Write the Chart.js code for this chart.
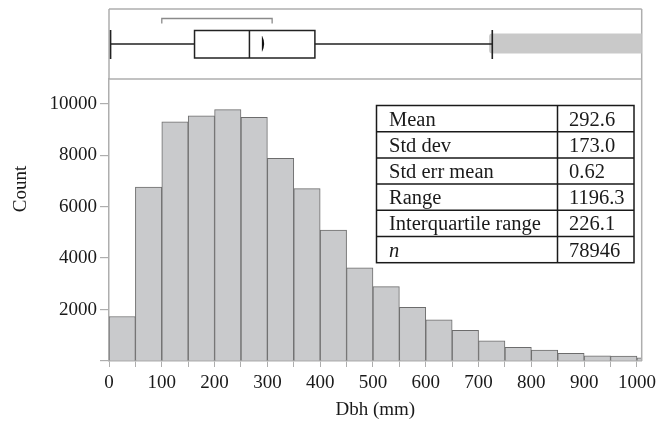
<!DOCTYPE html>
<html>
<head>
<meta charset="utf-8">
<script src="https://cdn.jsdelivr.net/npm/chart.js@4/dist/chart.umd.min.js"></script>
<style>
  html, body { margin: 0; padding: 0; background: #fff; }
  #wrap { width: 658px; height: 427px; position: relative; }
</style>
</head>
<body>
<div id="wrap"><canvas id="c" width="658" height="427"></canvas></div>
<script>
// ---- data ----
const binStarts = [0, 50, 100, 150, 200, 250, 300, 350, 400, 450, 500, 550, 600, 650, 700, 750, 800, 850, 900, 950, 1000];
const binWidth = 50;
const counts = [1730, 6760, 9300, 9530, 9770, 9470, 7880, 6700, 5090, 3620, 2890, 2090, 1600, 1190, 780, 530, 420, 300, 200, 190, 120];
const yTicks = [0, 2000, 4000, 6000, 8000, 10000];
const xTicks = [0, 50, 100, 150, 200, 250, 300, 350, 400, 450, 500, 550, 600, 650, 700, 750, 800, 850, 900, 950, 1000];
const xTickLabels = ['0', '100', '200', '300', '400', '500', '600', '700', '800', '900', '1000'];
const boxFive = [3, 162, 266, 390, 726];      // whisker low, Q1, median, Q3, whisker high
const meanValue = 292.6;
const shortestHalf = [100, 309];
const outlierSpan = [720, 1200];
const statLabels = ['Mean', 'Std dev', 'Std err mean', 'Range', 'Interquartile range', 'n'];
const statValues = ['292.6', '173.0', '0.62', '1196.3', '226.1', '78946'];
const xTitle = 'Dbh (mm)';
const yTitle = 'Count';

const SERIF = '"Liberation Serif", "DejaVu Serif", serif';
const FRAME = '#aeaeae';

const extras = {
  id: 'extras',
  afterDraw(chart) {
    const ctx = chart.ctx;
    const xs = chart.scales.x;
    const a = chart.chartArea;
    const px = v => xs.getPixelForValue(v);
    ctx.save();
    // frame lines
    ctx.strokeStyle = FRAME;
    ctx.lineWidth = 1.5;
    ctx.beginPath();
    ctx.moveTo(a.left, 9); ctx.lineTo(a.right, 9);
    ctx.moveTo(a.left, a.top); ctx.lineTo(a.right, a.top);
    ctx.moveTo(a.left, 9); ctx.lineTo(a.left, a.top);
    ctx.moveTo(a.right, 9); ctx.lineTo(a.right, a.bottom);
    ctx.stroke();

    // box plot panel
    ctx.save();
    ctx.beginPath();
    ctx.rect(a.left, 9, a.right - a.left, a.top - 9);
    ctx.clip();
    // outlier band
    ctx.fillStyle = '#c9c9c9';
    const ox0 = px(outlierSpan[0]), ox1 = px(outlierSpan[1]);
    ctx.beginPath();
    if (ctx.roundRect) ctx.roundRect(ox0, 33.5, ox1 - ox0, 20, 3); else ctx.rect(ox0, 33.5, ox1 - ox0, 20);
    ctx.fill();
    // shortest half bracket
    ctx.strokeStyle = '#8a8a8a';
    ctx.lineWidth = 1.3;
    ctx.beginPath();
    ctx.moveTo(px(shortestHalf[0]), 23.5); ctx.lineTo(px(shortestHalf[0]), 18.5);
    ctx.lineTo(px(shortestHalf[1]), 18.5); ctx.lineTo(px(shortestHalf[1]), 23.5);
    ctx.stroke();
    // whiskers
    ctx.strokeStyle = '#222';
    ctx.lineWidth = 1.3;
    const midY = 44;
    ctx.beginPath();
    ctx.moveTo(px(boxFive[0]), midY); ctx.lineTo(px(boxFive[1]), midY);
    ctx.moveTo(px(boxFive[3]), midY); ctx.lineTo(px(boxFive[4]), midY);
    ctx.stroke();
    // caps
    ctx.lineWidth = 1.6;
    ctx.beginPath();
    ctx.moveTo(px(boxFive[0]), 30); ctx.lineTo(px(boxFive[0]), 59);
    ctx.moveTo(px(boxFive[4]), 30); ctx.lineTo(px(boxFive[4]), 59);
    ctx.stroke();
    // box
    ctx.lineWidth = 1.5;
    ctx.strokeRect(px(boxFive[1]), 30.5, px(boxFive[3]) - px(boxFive[1]), 27.5);
    ctx.beginPath();
    ctx.moveTo(px(boxFive[2]), 30.5); ctx.lineTo(px(boxFive[2]), 58);
    ctx.stroke();
    // mean mark (narrow confidence diamond)
    const mx = px(meanValue);
    ctx.fillStyle = '#111';
    ctx.beginPath();
    ctx.moveTo(mx - 1.3, 36);
    ctx.quadraticCurveTo(mx + 2.6, 43.5, mx - 1.3, 51.5);
    ctx.lineTo(mx - 1.6, 51.5);
    ctx.lineTo(mx - 1.6, 36);
    ctx.closePath();
    ctx.fill();
    ctx.restore();

    // y title
    ctx.save();
    ctx.translate(21, 189);
    ctx.rotate(-Math.PI / 2);
    ctx.fillStyle = '#1a1a1a';
    ctx.font = '19px ' + SERIF;
    ctx.textAlign = 'center';
    ctx.textBaseline = 'middle';
    ctx.fillText(yTitle, 0, 0);
    ctx.restore();

    // statistics table
    const tl = 376.5, tr = 634, tc = 557.5, tt = 105.5, rh = 26.2;
    ctx.fillStyle = '#fff';
    ctx.fillRect(tl, tt, tr - tl, rh * statLabels.length);
    ctx.strokeStyle = '#1a1a1a';
    ctx.lineWidth = 1.5;
    ctx.strokeRect(tl, tt, tr - tl, rh * statLabels.length);
    ctx.beginPath();
    ctx.moveTo(tc, tt); ctx.lineTo(tc, tt + rh * statLabels.length);
    for (let i = 1; i < statLabels.length; i++) {
      ctx.moveTo(tl, tt + rh * i); ctx.lineTo(tr, tt + rh * i);
    }
    ctx.stroke();
    ctx.fillStyle = '#1a1a1a';
    ctx.textAlign = 'left';
    ctx.textBaseline = 'alphabetic';
    statLabels.forEach((lab, i) => {
      const y = tt + rh * i + 20;
      ctx.font = (lab === 'n' ? 'italic ' : '') + '20.5px ' + SERIF;
      ctx.fillText(lab, 389, y);
      ctx.font = '20.5px ' + SERIF;
      ctx.fillText(statValues[i], 569, y);
    });
    ctx.restore();
  }
};

new Chart(document.getElementById('c'), {
  type: 'bar',
  data: {
    datasets: [{
      data: binStarts.map((s, i) => ({ x: s + binWidth / 2, y: counts[i] })),
      backgroundColor: '#c9cacc',
      borderColor: '#6c6c6c',
      borderWidth: 1,
      borderSkipped: 'start',
      barPercentage: 1,
      categoryPercentage: 1,
      clip: 0
    }]
  },
  options: {
    responsive: false,
    animation: false,
    devicePixelRatio: 1,
    layout: { padding: { top: 79, right: 16.3, bottom: 0, left: 0 } },
    plugins: { legend: { display: false }, tooltip: { enabled: false } },
    scales: {
      x: {
        type: 'linear',
        offset: false,
        min: 0,
        max: 1009,
        afterBuildTicks: s => { s.ticks = xTicks.map(v => ({ value: v })); },
        afterFit: s => { s.height = 66; s.paddingLeft = 0; s.paddingRight = 0; },
        ticks: {
          autoSkip: false,
          maxRotation: 0,
          padding: 5,
          color: '#1a1a1a',
          font: { family: SERIF, size: 19 },
          callback: v => (xTickLabels.includes(String(v)) ? String(v) : '')
        },
        grid: { offset: false, drawOnChartArea: false, drawTicks: true, tickLength: 6, color: FRAME, lineWidth: 1 },
        border: { display: true, color: FRAME, width: 1.5 },
        title: { display: true, text: xTitle, color: '#1a1a1a', font: { family: SERIF, size: 19 }, padding: { top: 0, bottom: 6 } }
      },
      y: {
        min: 0,
        max: 10960,
        afterBuildTicks: s => { s.ticks = yTicks.map(v => ({ value: v })); },
        afterFit: s => { s.width = 109; s.paddingTop = 0; s.paddingBottom = 0; },
        ticks: {
          padding: 3,
          color: '#1a1a1a',
          font: { family: SERIF, size: 19 },
          callback: v => (v === 0 ? '' : String(v))
        },
        grid: { drawOnChartArea: false, drawTicks: true, tickLength: 9, color: FRAME, lineWidth: 1.2 },
        border: { display: true, color: FRAME, width: 1.5 }
      }
    }
  },
  plugins: [extras]
});
</script>
</body>
</html>
